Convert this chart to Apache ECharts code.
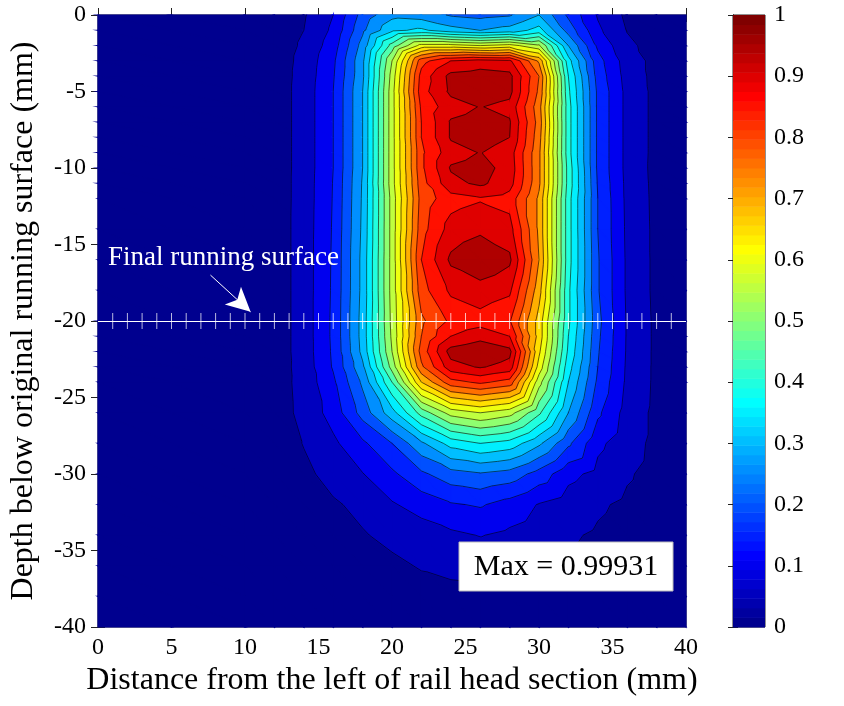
<!DOCTYPE html>
<html>
<head>
<meta charset="utf-8">
<script src="https://cdn.jsdelivr.net/npm/echarts@6/dist/echarts.min.js"></script>
<style>
    html, body { margin: 0; padding: 0; background: #fff; }
    #chart { width: 844px; height: 706px; }
</style>
</head>
<body>
<div id="chart"></div>
<script>
// measurement grid (mm)
var xs = [0, 5, 10, 12, 14, 16, 18, 20, 22, 24, 26, 28, 30, 32, 34, 36, 38, 40];
var ys = [0, -1, -2, -3, -4, -5, -6, -7, -8, -9, -10, -11, -12, -14, -16, -18, -20, -21, -22, -23, -24, -26, -28, -30, -32, -34, -36, -38, -40];

// normalised values, one row per depth in ys, one column per position in xs
var values = [
    [0.005, 0.008, 0.013, 0.020, 0.045, 0.100, 0.220, 0.285, 0.275, 0.245, 0.235, 0.245, 0.300, 0.190, 0.095, 0.040, 0.028, 0.020],
    [0.005, 0.008, 0.013, 0.020, 0.050, 0.110, 0.240, 0.340, 0.360, 0.320, 0.300, 0.320, 0.370, 0.230, 0.110, 0.048, 0.030, 0.020],
    [0.005, 0.008, 0.013, 0.021, 0.058, 0.125, 0.270, 0.470, 0.620, 0.620, 0.600, 0.620, 0.560, 0.300, 0.140, 0.060, 0.032, 0.020],
    [0.005, 0.008, 0.013, 0.022, 0.065, 0.140, 0.290, 0.550, 0.830, 0.900, 0.920, 0.910, 0.740, 0.370, 0.170, 0.075, 0.035, 0.020],
    [0.005, 0.008, 0.013, 0.022, 0.068, 0.145, 0.290, 0.570, 0.870, 0.965, 0.975, 0.965, 0.800, 0.400, 0.180, 0.080, 0.035, 0.020],
    [0.005, 0.008, 0.013, 0.022, 0.070, 0.150, 0.300, 0.580, 0.880, 0.960, 0.980, 0.965, 0.790, 0.410, 0.190, 0.085, 0.036, 0.020],
    [0.005, 0.008, 0.013, 0.022, 0.070, 0.150, 0.300, 0.580, 0.860, 0.930, 0.952, 0.935, 0.770, 0.420, 0.190, 0.085, 0.036, 0.020],
    [0.005, 0.008, 0.013, 0.022, 0.070, 0.150, 0.300, 0.580, 0.850, 0.955, 0.970, 0.955, 0.780, 0.420, 0.190, 0.085, 0.036, 0.020],
    [0.005, 0.008, 0.013, 0.022, 0.070, 0.150, 0.300, 0.580, 0.850, 0.955, 0.975, 0.950, 0.770, 0.420, 0.190, 0.085, 0.036, 0.020],
    [0.005, 0.008, 0.013, 0.022, 0.070, 0.150, 0.300, 0.580, 0.840, 0.930, 0.952, 0.925, 0.760, 0.420, 0.190, 0.085, 0.036, 0.020],
    [0.005, 0.008, 0.013, 0.022, 0.070, 0.150, 0.300, 0.580, 0.840, 0.955, 0.970, 0.930, 0.760, 0.430, 0.190, 0.085, 0.035, 0.020],
    [0.005, 0.008, 0.013, 0.022, 0.071, 0.152, 0.305, 0.580, 0.830, 0.935, 0.960, 0.920, 0.760, 0.430, 0.195, 0.087, 0.036, 0.020],
    [0.005, 0.008, 0.013, 0.022, 0.071, 0.153, 0.307, 0.570, 0.820, 0.880, 0.895, 0.880, 0.740, 0.420, 0.200, 0.088, 0.037, 0.020],
    [0.005, 0.008, 0.013, 0.022, 0.072, 0.155, 0.310, 0.570, 0.830, 0.920, 0.940, 0.920, 0.740, 0.420, 0.200, 0.090, 0.038, 0.020],
    [0.005, 0.008, 0.013, 0.022, 0.072, 0.157, 0.315, 0.570, 0.850, 0.960, 0.990, 0.960, 0.750, 0.420, 0.205, 0.092, 0.038, 0.020],
    [0.005, 0.008, 0.013, 0.022, 0.072, 0.158, 0.315, 0.570, 0.830, 0.910, 0.930, 0.910, 0.720, 0.410, 0.205, 0.092, 0.038, 0.020],
    [0.005, 0.008, 0.013, 0.022, 0.072, 0.160, 0.320, 0.565, 0.790, 0.860, 0.880, 0.855, 0.680, 0.410, 0.215, 0.095, 0.040, 0.020],
    [0.005, 0.008, 0.013, 0.022, 0.072, 0.160, 0.320, 0.560, 0.800, 0.900, 0.930, 0.900, 0.680, 0.400, 0.210, 0.095, 0.040, 0.020],
    [0.005, 0.008, 0.013, 0.022, 0.072, 0.158, 0.315, 0.550, 0.820, 0.970, 0.995, 0.965, 0.660, 0.390, 0.205, 0.094, 0.040, 0.020],
    [0.005, 0.008, 0.013, 0.023, 0.070, 0.155, 0.290, 0.520, 0.790, 0.930, 0.955, 0.930, 0.630, 0.370, 0.200, 0.092, 0.040, 0.020],
    [0.005, 0.008, 0.013, 0.024, 0.068, 0.140, 0.260, 0.450, 0.700, 0.830, 0.860, 0.830, 0.570, 0.350, 0.190, 0.090, 0.040, 0.020],
    [0.005, 0.008, 0.012, 0.023, 0.065, 0.120, 0.220, 0.330, 0.470, 0.570, 0.600, 0.570, 0.460, 0.300, 0.160, 0.080, 0.038, 0.020],
    [0.005, 0.008, 0.012, 0.022, 0.052, 0.090, 0.140, 0.200, 0.290, 0.370, 0.400, 0.380, 0.310, 0.210, 0.112, 0.070, 0.038, 0.020],
    [0.005, 0.008, 0.012, 0.020, 0.040, 0.065, 0.098, 0.140, 0.190, 0.230, 0.245, 0.230, 0.180, 0.115, 0.085, 0.055, 0.035, 0.020],
    [0.005, 0.008, 0.012, 0.020, 0.035, 0.045, 0.060, 0.095, 0.120, 0.145, 0.155, 0.130, 0.097, 0.075, 0.056, 0.042, 0.030, 0.020],
    [0.005, 0.008, 0.012, 0.020, 0.028, 0.035, 0.047, 0.060, 0.075, 0.090, 0.102, 0.090, 0.075, 0.055, 0.045, 0.035, 0.028, 0.020],
    [0.005, 0.008, 0.012, 0.020, 0.025, 0.030, 0.035, 0.042, 0.053, 0.060, 0.065, 0.063, 0.052, 0.045, 0.038, 0.030, 0.025, 0.020],
    [0.005, 0.008, 0.011, 0.018, 0.020, 0.022, 0.025, 0.030, 0.035, 0.038, 0.040, 0.040, 0.036, 0.032, 0.028, 0.024, 0.020, 0.018],
    [0.005, 0.007, 0.010, 0.015, 0.017, 0.018, 0.020, 0.022, 0.024, 0.025, 0.025, 0.025, 0.024, 0.022, 0.020, 0.018, 0.017, 0.015]
];

var levels = [0, 0.05, 0.1, 0.15, 0.2, 0.25, 0.3, 0.35, 0.4, 0.45, 0.5, 0.55, 0.6, 0.65, 0.7, 0.75, 0.8, 0.85, 0.9, 0.95];

var surfaceDepth = -20;
var surfaceTicks = [1, 2, 3, 4, 5, 6, 7, 8, 9, 10, 11, 12, 13, 14, 15, 16, 17, 18, 19, 20,
    21, 22, 23, 24, 25, 26, 27, 28, 29, 30, 31, 32, 33, 34, 35, 36, 37, 38, 39];
var arrowFrom = [7.65, -17.0];
var arrowTo = [10.38, -19.4];
var maxLabel = 'Max = 0.99931';

var serif = "'Liberation Serif', 'Times New Roman', serif";

// matlab jet(64)
function jetPart(k) {
    if (k < 1 || k > 47) return 0;
    if (k <= 16) return k / 16;
    if (k <= 31) return 1;
    return (48 - k) / 16;
}
function jetColor(v) {
    var i = Math.min(64, Math.max(1, Math.floor(v * 64) + 1));
    var r = jetPart(i - 24), g = jetPart(i - 8), b = jetPart(i + 8);
    return 'rgb(' + Math.round(r * 255) + ',' + Math.round(g * 255) + ',' + Math.round(b * 255) + ')';
}

// one item per grid cell
var cells = [];
for (var j = 0; j < ys.length - 1; j++) {
    for (var i = 0; i < xs.length - 1; i++) {
        cells.push([xs[i], xs[i + 1], ys[j], ys[j + 1],
            values[j][i], values[j][i + 1], values[j + 1][i], values[j + 1][i + 1]]);
    }
}

function clip(poly, lvl, keepAbove) {
    var out = [];
    for (var n = 0; n < poly.length; n++) {
        var p = poly[n], q = poly[(n + 1) % poly.length];
        var pin = keepAbove ? p[2] >= lvl : p[2] < lvl;
        var qin = keepAbove ? q[2] >= lvl : q[2] < lvl;
        if (pin) out.push(p);
        if (pin !== qin) {
            var t = (lvl - p[2]) / (q[2] - p[2]);
            out.push([p[0] + t * (q[0] - p[0]), p[1] + t * (q[1] - p[1]), lvl]);
        }
    }
    return out;
}

function cellTriangles(api) {
    var a = api.coord([api.value(0), api.value(2)]);
    var b = api.coord([api.value(1), api.value(2)]);
    var c = api.coord([api.value(0), api.value(3)]);
    var d = api.coord([api.value(1), api.value(3)]);
    var A = [a[0], a[1], api.value(4)], B = [b[0], b[1], api.value(5)];
    var C = [c[0], c[1], api.value(6)], D = [d[0], d[1], api.value(7)];
    return [[A, B, D], [A, D, C]];
}

function renderFill(params, api) {
    var children = [];
    cellTriangles(api).forEach(function (tri) {
        for (var k = 0; k < levels.length; k++) {
            var poly = k === 0 ? tri : clip(tri, levels[k], true);
            if (k < levels.length - 1) poly = clip(poly, levels[k + 1], false);
            if (poly.length < 3) continue;
            var col = jetColor(levels[k]);
            children.push({
                type: 'polygon',
                shape: { points: poly.map(function (p) { return [p[0], p[1]]; }) },
                style: { fill: col, stroke: col, lineWidth: 1.2 }
            });
        }
    });
    return { type: 'group', children: children };
}

function renderLines(params, api) {
    var children = [];
    cellTriangles(api).forEach(function (tri) {
        for (var k = 1; k < levels.length; k++) {
            var lvl = levels[k], pts = [];
            for (var n = 0; n < 3; n++) {
                var p = tri[n], q = tri[(n + 1) % 3];
                if ((p[2] >= lvl) !== (q[2] >= lvl)) {
                    var t = (lvl - p[2]) / (q[2] - p[2]);
                    pts.push([p[0] + t * (q[0] - p[0]), p[1] + t * (q[1] - p[1])]);
                }
            }
            if (pts.length === 2) {
                children.push({
                    type: 'line',
                    shape: { x1: pts[0][0], y1: pts[0][1], x2: pts[1][0], y2: pts[1][1] },
                    style: { stroke: 'rgba(0,0,0,0.85)', lineWidth: 0.7 }
                });
            }
        }
    });
    return { type: 'group', children: children };
}

// colour bar steps
var barSteps = [];
for (var s = 0; s < 64; s++) barSteps.push([0, 1, s / 64, (s + 1) / 64]);

function renderBar(params, api) {
    var p0 = api.coord([api.value(0), api.value(2)]);
    var p1 = api.coord([api.value(1), api.value(3)]);
    var col = jetColor((api.value(2) + api.value(3)) / 2);
    return {
        type: 'rect',
        shape: { x: p0[0], y: p1[1], width: p1[0] - p0[0], height: p0[1] - p1[1] + 0.5 },
        style: { fill: col }
    };
}

var axisLineStyle = { lineStyle: { color: '#222', width: 1 } };
var labelStyle = { color: '#000', fontFamily: serif, fontSize: 24 };

var option = {
    animation: false,
    backgroundColor: '#fff',
    grid: [
        { left: 95, top: 15, width: 591, height: 612, show: true, borderColor: '#222', borderWidth: 1, backgroundColor: jetColor(0) },
        { left: 733, top: 15, width: 32, height: 612, show: true, borderColor: '#222', borderWidth: 1 }
    ],
    xAxis: [
        {
            gridIndex: 0, type: 'value', min: 0, max: 40, interval: 5, position: 'bottom',
            axisLine: axisLineStyle, axisTick: { inside: true, length: 7, lineStyle: { color: '#222' } },
            axisLabel: Object.assign({ margin: 9 }, labelStyle),
            splitLine: { show: false },
            name: 'Distance from the left of rail head section (mm)', nameLocation: 'middle', nameGap: 38,
            nameTextStyle: { color: '#000', fontFamily: serif, fontSize: 32 }
        },
        {
            gridIndex: 0, type: 'value', min: 0, max: 40, interval: 5, position: 'top',
            axisLine: axisLineStyle, axisTick: { inside: true, length: 7, lineStyle: { color: '#222' } },
            axisLabel: { show: false }, splitLine: { show: false }
        },
        { gridIndex: 1, type: 'value', min: 0, max: 1, show: false }
    ],
    yAxis: [
        {
            gridIndex: 0, type: 'value', min: -40, max: 0, interval: 5, position: 'left',
            axisLine: axisLineStyle, axisTick: { inside: true, length: 7, lineStyle: { color: '#222' } },
            axisLabel: Object.assign({ margin: 12 }, labelStyle),
            splitLine: { show: false },
            name: 'Depth below original running surface (mm)', nameLocation: 'middle', nameGap: 58,
            nameTextStyle: { color: '#000', fontFamily: serif, fontSize: 32 }
        },
        {
            gridIndex: 0, type: 'value', min: -40, max: 0, interval: 5, position: 'right',
            axisLine: axisLineStyle, axisTick: { inside: true, length: 7, lineStyle: { color: '#222' } },
            axisLabel: { show: false }, splitLine: { show: false }
        },
        {
            gridIndex: 1, type: 'value', min: 0, max: 1, interval: 0.1, position: 'right',
            axisLine: axisLineStyle, axisTick: { inside: true, length: 5, lineStyle: { color: '#222' } },
            axisLabel: Object.assign({ margin: 9 }, labelStyle),
            splitLine: { show: false }
        },
        {
            gridIndex: 1, type: 'value', min: 0, max: 1, interval: 0.1, position: 'left',
            axisLine: axisLineStyle, axisTick: { inside: true, length: 5, lineStyle: { color: '#222' } },
            axisLabel: { show: false }, splitLine: { show: false }
        }
    ],
    series: [
        {
            type: 'custom', xAxisIndex: 0, yAxisIndex: 0, data: cells,
            encode: { x: [0, 1], y: [2, 3] }, renderItem: renderFill, silent: true, z: 1
        },
        {
            type: 'custom', xAxisIndex: 0, yAxisIndex: 0, data: cells,
            encode: { x: [0, 1], y: [2, 3] }, renderItem: renderLines, silent: true, z: 2
        },
        {
            type: 'scatter', xAxisIndex: 0, yAxisIndex: 0, z: 3, silent: true,
            data: surfaceTicks.map(function (x) { return [x, surfaceDepth]; }),
            symbol: 'rect', symbolSize: [1, 16],
            itemStyle: { color: 'rgba(255,255,255,0.9)' },
            markLine: {
                silent: true, animation: false,
                label: { show: false },
                lineStyle: { color: '#fff', width: 1, type: 'solid' },
                data: [
                    [{ coord: [0, surfaceDepth], symbol: 'none' }, { coord: [40, surfaceDepth], symbol: 'none' }],
                    [{ coord: arrowFrom, symbol: 'none' }, { coord: arrowTo, symbol: 'arrow', symbolSize: [18, 24] }]
                ]
            }
        },
        {
            type: 'custom', xAxisIndex: 2, yAxisIndex: 2, data: barSteps,
            encode: { x: [0, 1], y: [2, 3] }, renderItem: renderBar, silent: true
        }
    ],
    graphic: [
        {
            type: 'text', x: 108, y: 244, z: 100,
            style: { text: 'Final running surface', fill: '#fff', font: '27px ' + serif }
        },
        {
            type: 'rect', z: 100,
            shape: { x: 459, y: 542, width: 214, height: 49 },
            style: { fill: '#fff', stroke: '#bbb', lineWidth: 1 }
        },
        {
            type: 'text', z: 101, x: 566, y: 567,
            style: { text: maxLabel, fill: '#000', font: '30px ' + serif, align: 'center', verticalAlign: 'middle' }
        }
    ]
};

var myChart = echarts.init(document.getElementById('chart'));
myChart.setOption(option);
</script>
</body>
</html>
